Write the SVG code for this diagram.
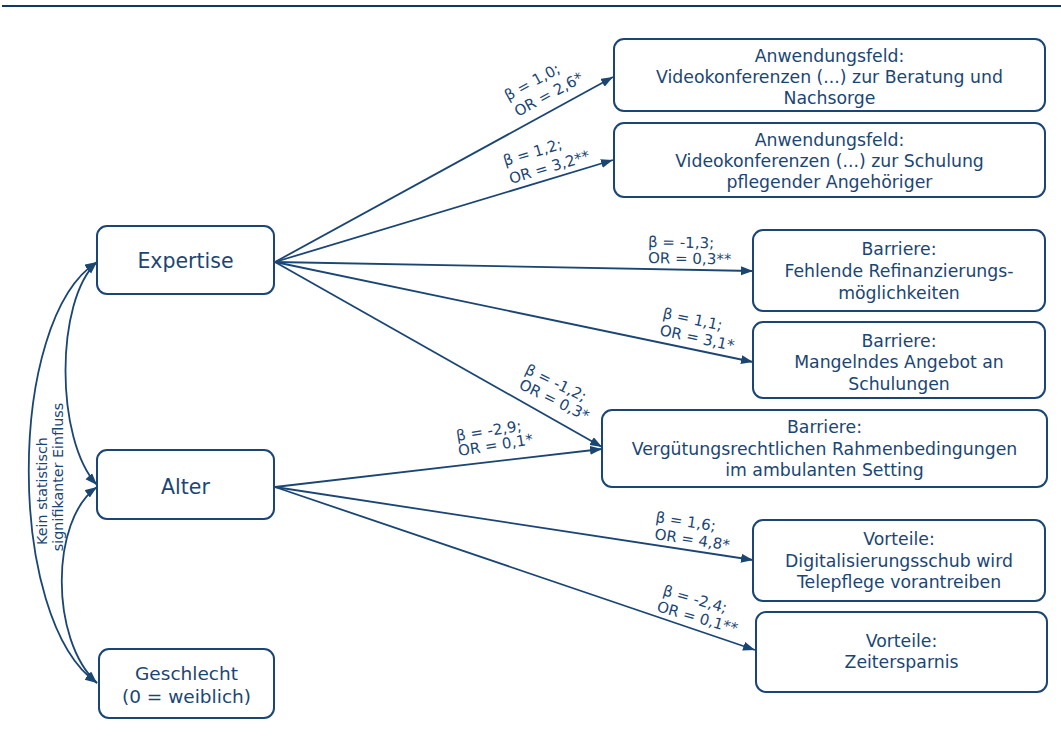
<svg xmlns="http://www.w3.org/2000/svg" width="1061" height="747" viewBox="0 0 1061 747">
<style>
.box{fill:#fff;stroke:#1b4674;stroke-width:2}
.t{font-family:"DejaVu Sans",Verdana,sans-serif;fill:#1b4674;text-anchor:middle}
.bt{font-size:17.3px}
.lbl{font-family:"DejaVu Sans",Verdana,sans-serif;fill:#1b4674;font-size:15px}
.c{fill:none;stroke:#1b4674;stroke-width:1.8}
</style>
<defs>
<marker id="ah" markerUnits="userSpaceOnUse" markerWidth="13" markerHeight="10" refX="12" refY="4.5" orient="auto-start-reverse">
<path d="M0,0 L12,4.5 L0,9 z" fill="#1b4674"/>
</marker>
</defs>
<rect width="1061" height="747" fill="#fff"/>
<line x1="2" y1="6" x2="1061" y2="6" stroke="#0f3a66" stroke-width="2.2"/>

<g id="connectors">
<path class="c" d="M275,262 L613,77" marker-end="url(#ah)"/>
<path class="c" d="M275,262 L613,160" marker-end="url(#ah)"/>
<path class="c" d="M275,262 L753,271" marker-end="url(#ah)"/>
<path class="c" d="M275,262 L753,362" marker-end="url(#ah)"/>
<path class="c" d="M275,262 L602,447" marker-end="url(#ah)"/>
<path class="c" d="M275,487 L602,449" marker-end="url(#ah)"/>
<path class="c" d="M275,487 L753,560" marker-end="url(#ah)"/>
<path class="c" d="M275,487 L755,650" marker-end="url(#ah)"/>
<path class="c" d="M97,262 C6,320 6,620 97,683" marker-start="url(#ah)" marker-end="url(#ah)"/>
<path class="c" d="M97,262 C55,300 55,440 97,485" marker-start="url(#ah)" marker-end="url(#ah)"/>
<path class="c" d="M97,487 C50,520 50,640 97,683" marker-start="url(#ah)" marker-end="url(#ah)"/>
<g class="lbl">
<text transform="translate(508,101) rotate(-28.6)">β = 1,0;</text>
<text transform="translate(518,117) rotate(-28.6)">OR = 2,6*</text>
<text transform="translate(505,166) rotate(-16.7)">β = 1,2;</text>
<text transform="translate(511,184) rotate(-16.7)">OR = 3,2**</text>
<text transform="translate(648,247) rotate(1)">β = -1,3;</text>
<text transform="translate(648,263) rotate(1)">OR = 0,3**</text>
<text transform="translate(662,318) rotate(12)">β = 1,1;</text>
<text transform="translate(659,335) rotate(12)">OR = 3,1*</text>
<text transform="translate(524,373) rotate(26)">β = -1,2;</text>
<text transform="translate(518,388) rotate(26)">OR = 0,3*</text>
<text transform="translate(457,441) rotate(-9)">β = -2,9;</text>
<text transform="translate(459,456) rotate(-9)">OR = 0,1*</text>
<text transform="translate(655,522) rotate(8.7)">β = 1,6;</text>
<text transform="translate(654,539) rotate(8.7)">OR = 4,8*</text>
<text transform="translate(662,595) rotate(16)">β = -2,4;</text>
<text transform="translate(656,611) rotate(16)">OR = 0,1**</text>
<text transform="translate(47,491) rotate(-90)" text-anchor="middle" font-size="14.3">Kein statistisch</text>
<text transform="translate(63,477) rotate(-90)" text-anchor="middle" font-size="14.3">signifikanter Einfluss</text>
</g>
</g>

<g id="expertise">
<rect class="box" x="97" y="226" width="177" height="68" rx="10"/>
<text class="t" x="185.5" y="268" font-size="20.5">Expertise</text>
</g>
<g id="alter">
<rect class="box" x="97" y="450" width="177" height="69" rx="10"/>
<text class="t" x="185.5" y="494" font-size="20.5">Alter</text>
</g>
<g id="geschlecht">
<rect class="box" x="99" y="649" width="175" height="69" rx="10"/>
<text class="t" x="186.5" y="680" font-size="18.5">Geschlecht</text>
<text class="t" x="186.5" y="703" font-size="18.5">(0 = weiblich)</text>
</g>
<g id="anw1">
<rect class="box" x="614" y="39" width="431" height="72" rx="10"/>
<text class="t bt" x="829.5" y="62">Anwendungsfeld:</text>
<text class="t bt" x="829.5" y="83">Videokonferenzen (...) zur Beratung und</text>
<text class="t bt" x="829.5" y="104">Nachsorge</text>
</g>
<g id="anw2">
<rect class="box" x="614" y="123" width="431" height="74" rx="10"/>
<text class="t bt" x="829.5" y="146">Anwendungsfeld:</text>
<text class="t bt" x="829.5" y="167">Videokonferenzen (...) zur Schulung</text>
<text class="t bt" x="829.5" y="188">pflegender Angehöriger</text>
</g>
<g id="barriere1">
<rect class="box" x="753" y="230" width="292" height="81" rx="10"/>
<text class="t bt" x="899" y="255">Barriere:</text>
<text class="t bt" x="899" y="277">Fehlende Refinanzierungs-</text>
<text class="t bt" x="899" y="299">möglichkeiten</text>
</g>
<g id="barriere2">
<rect class="box" x="753" y="322" width="292" height="76" rx="10"/>
<text class="t bt" x="899" y="347">Barriere:</text>
<text class="t bt" x="899" y="368">Mangelndes Angebot an</text>
<text class="t bt" x="899" y="390">Schulungen</text>
</g>
<g id="barriere3">
<rect class="box" x="602" y="410" width="445" height="77" rx="10"/>
<text class="t bt" x="824.5" y="433">Barriere:</text>
<text class="t bt" x="824.5" y="455">Vergütungsrechtlichen Rahmenbedingungen</text>
<text class="t bt" x="824.5" y="476">im ambulanten Setting</text>
</g>
<g id="vorteile1">
<rect class="box" x="753" y="520" width="292" height="81" rx="10"/>
<text class="t bt" x="899" y="545">Vorteile:</text>
<text class="t bt" x="899" y="567">Digitalisierungsschub wird</text>
<text class="t bt" x="899" y="588">Telepflege vorantreiben</text>
</g>
<g id="vorteile2">
<rect class="box" x="756" y="612" width="291" height="80" rx="10"/>
<text class="t bt" x="901.5" y="647">Vorteile:</text>
<text class="t bt" x="901.5" y="668">Zeitersparnis</text>
</g>
</svg>
